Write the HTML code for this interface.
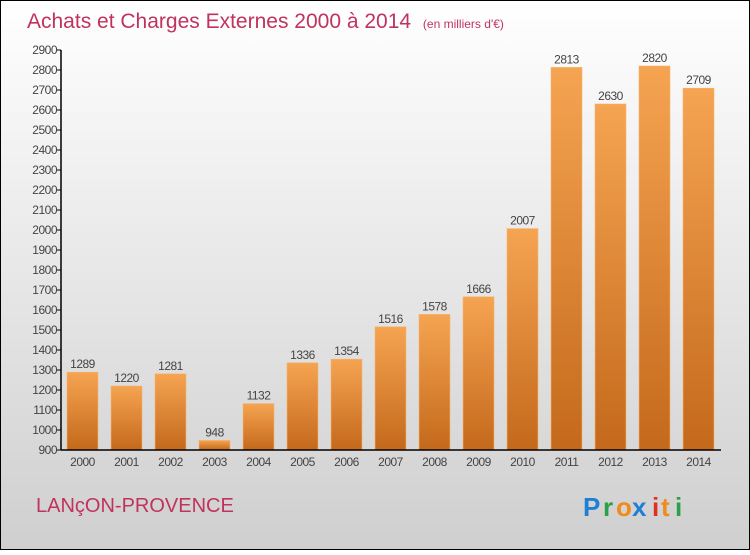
<!DOCTYPE html>
<html><head><meta charset="utf-8"><style>
html,body{margin:0;padding:0}
body{width:750px;height:550px;overflow:hidden;font-family:"Liberation Sans",sans-serif}
</style></head><body>
<svg width="750" height="550" xmlns="http://www.w3.org/2000/svg">
<defs>
<linearGradient id="bg" x1="0" y1="0" x2="0" y2="1"><stop offset="0" stop-color="#ffffff"/><stop offset="1" stop-color="#cfcfcf"/></linearGradient>
<linearGradient id="bar" x1="0" y1="0" x2="0" y2="1"><stop offset="0" stop-color="#f5a452"/><stop offset="1" stop-color="#c4691b"/></linearGradient>
</defs>
<rect x="0.5" y="0.5" width="749" height="549" fill="url(#bg)" stroke="#000"/>
<text x="27" y="28" font-size="21" fill="#c0335f">Achats et Charges Externes 2000 à 2014 <tspan font-size="12" dx="6">(en milliers d'€)</tspan></text>
<g id="plot"></g>
<text x="36" y="512" font-size="20" fill="#c0335f">LANçON-PROVENCE</text>
<g font-size="26" font-weight="bold">
<text x="583" y="516" fill="#1f7fd6">P</text><text x="603" y="516" fill="#2aa048">r</text><text x="616" y="516" fill="#f08a1c">o</text><text x="632" y="516" fill="#1f7fd6">x</text><text x="652" y="516" fill="#e03020">i</text><text x="661" y="516" fill="#f08a1c">t</text><text x="675" y="516" fill="#2aa048">i</text>
</g>
<script>
var categories=["2000","2001","2002","2003","2004","2005","2006","2007","2008","2009","2010","2011","2012","2013","2014"];
var values=[1289,1220,1281,948,1132,1336,1354,1516,1578,1666,2007,2813,2630,2820,2709];
var yTicks=[900,1000,1100,1200,1300,1400,1500,1600,1700,1800,1900,2000,2100,2200,2300,2400,2500,2600,2700,2800,2900];
var NS="http://www.w3.org/2000/svg",g=document.getElementById("plot");
var x0=61,x1=721,yTop=50,yBot=450,ymin=900,ymax=2900,step=(x1-x0)/categories.length;
function y(v){return yBot-(v-ymin)/(ymax-ymin)*(yBot-yTop);}
function mk(t,a){var e=document.createElementNS(NS,t);for(var k in a)e.setAttribute(k,a[k]);g.appendChild(e);return e;}
yTicks.forEach(function(v){
 var l=mk("line",{x1:x0-4,x2:x0,y1:y(v),y2:y(v),stroke:"#000"});
 
 
 var t=mk("text",{x:x0-4,y:y(v)+4,"text-anchor":"end","font-size":"12",fill:"#444","letter-spacing":"-0.5"});t.textContent=v;
 
 
});
categories.forEach(function(c,i){
 var bx=x0+i*step+6,bw=step-13;
 var r=mk("rect",{x:bx,y:y(values[i]),width:bw,height:yBot-y(values[i]),fill:"url(#bar)",stroke:"#f7b56e","stroke-width":"0.6"});
 
 
 var t=mk("text",{x:bx+bw/2,y:y(values[i])-4,"text-anchor":"middle","font-size":"12",fill:"#444","letter-spacing":"-0.5"});t.textContent=values[i];
 
 
 var xl=mk("text",{x:bx+bw/2,y:466,"text-anchor":"middle","font-size":"12",fill:"#444","letter-spacing":"-0.5"});xl.textContent=c;
 
 
});
var ax=mk("line",{x1:x0,x2:x0,y1:yTop,y2:yBot,stroke:"#000","stroke-width":"1.5"});


var bx=mk("line",{x1:x0,x2:x1,y1:yBot,y2:yBot,stroke:"#000","stroke-width":"1.5"});


</script>
</svg>
</body></html>
